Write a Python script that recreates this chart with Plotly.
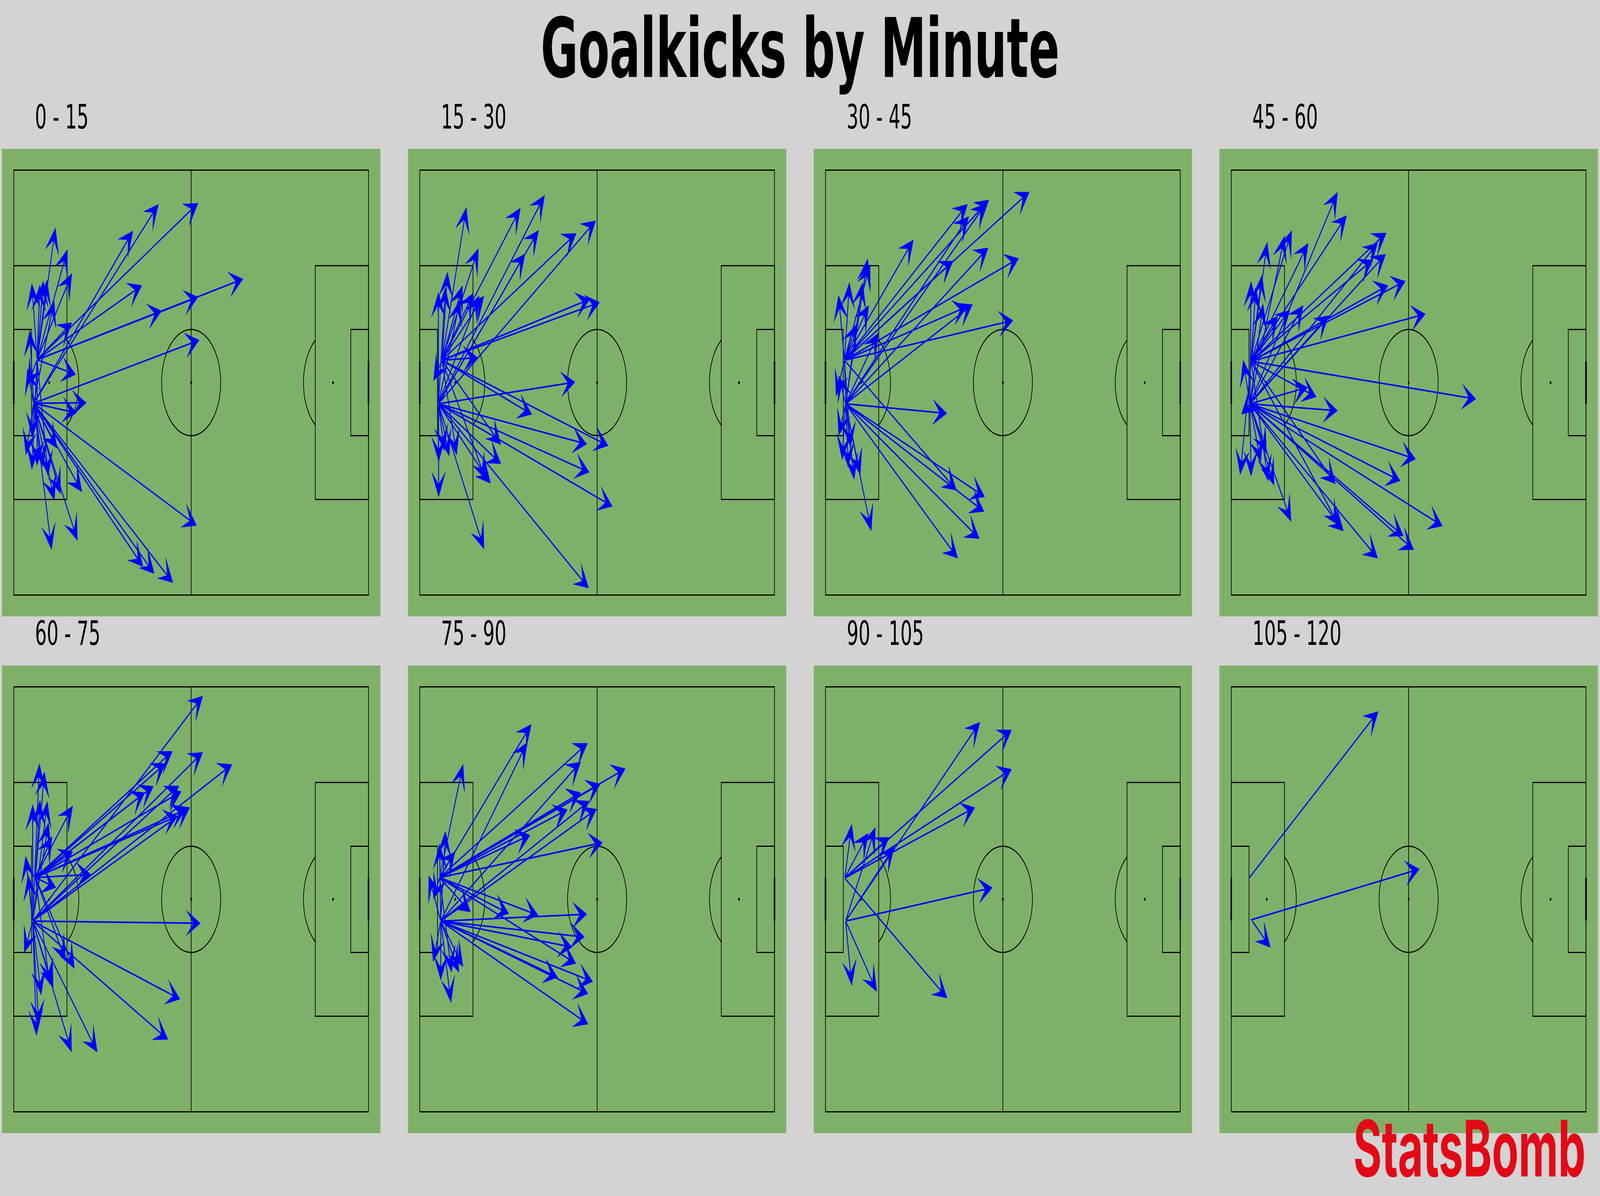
import numpy as np
import plotly.graph_objects as go

# panel titles (minute bins)
minute_bins = ["0 - 15", "15 - 30", "30 - 45", "45 - 60",
               "60 - 75", "75 - 90", "90 - 105", "105 - 120"]

# goal kicks per bin, statsbomb pitch coords: (start_x, start_y, end_x, end_y)
kicks_0_15 = [
    (7.9, 35.7, 62.4, 6.2), (6.7, 43.9, 49.0, 6.4), (6.7, 43.9, 40.4, 11.4),
    (7.9, 35.7, 43.4, 21.7), (7.9, 35.7, 77.6, 20.5), (7.9, 35.7, 62.4, 23.9),
    (7.9, 35.7, 50.1, 26.5), (6.7, 43.9, 62.8, 32.0), (6.7, 43.9, 61.9, 66.9),
    (6.7, 43.9, 43.8, 74.7), (6.7, 43.9, 47.6, 76.0), (6.7, 43.9, 53.9, 77.7),
    (6.7, 43.9, 23.1, 60.6), (6.7, 43.9, 21.6, 69.8), (6.7, 43.9, 12.8, 71.5),
    (7.9, 35.7, 21.0, 38.5), (6.7, 43.9, 24.6, 43.8), (6.7, 43.9, 21.3, 45.7),
    (7.9, 35.7, 14.1, 10.8), (7.9, 35.7, 18.2, 14.9), (7.9, 35.7, 19.7, 19.4),
    (6.7, 43.9, 13.7, 24.5), (7.9, 35.7, 11.3, 20.6), (7.9, 35.7, 10.0, 20.8),
    (7.9, 35.7, 6.1, 21.3), (7.9, 35.7, 19.7, 28.7), (6.7, 43.9, 5.4, 30.1),
    (6.7, 43.9, 4.6, 37.3), (7.9, 35.7, 6.1, 56.4), (6.7, 43.9, 4.1, 53.7),
    (6.7, 43.9, 10.0, 56.0), (7.9, 35.7, 11.7, 57.7), (6.7, 43.9, 13.8, 62.3),
    (6.7, 43.9, 15.9, 61.0), (6.7, 43.9, 6.2, 50.5), (7.9, 35.7, 8.8, 21.6),
    (7.9, 35.7, 7.9, 55.7), (6.7, 43.9, 14.7, 52.4), (7.9, 35.7, 4.6, 40.6),
]
kicks_15_30 = [
    (7.5, 35.8, 15.8, 6.9), (7.5, 35.8, 34.1, 7.1), (6.3, 44.0, 42.3, 4.7),
    (6.3, 44.0, 40.3, 11.3), (6.3, 44.0, 35.7, 15.7), (7.5, 35.8, 19.9, 14.7),
    (7.5, 35.8, 53.0, 11.9), (6.3, 44.0, 59.6, 9.5), (7.5, 35.8, 57.6, 24.3),
    (7.5, 35.8, 60.9, 24.9), (6.3, 44.0, 52.6, 39.9), (7.5, 35.8, 38.0, 46.0),
    (6.3, 44.0, 56.6, 51.6), (7.5, 35.8, 63.8, 51.9), (6.3, 44.0, 57.4, 56.9),
    (6.3, 44.0, 65.2, 63.3), (6.3, 44.0, 57.2, 78.7), (6.3, 44.0, 21.8, 71.4),
    (7.5, 35.8, 27.5, 51.7), (6.3, 44.0, 27.5, 55.3), (6.3, 44.0, 24.0, 59.0),
    (7.5, 35.8, 22.4, 58.3), (6.3, 44.0, 6.4, 61.6), (6.3, 44.0, 6.4, 55.0),
    (6.3, 44.0, 10.0, 53.9), (7.5, 35.8, 12.5, 53.7), (6.3, 44.0, 8.3, 52.9),
    (7.5, 35.8, 19.6, 35.3), (7.5, 35.8, 21.8, 23.7), (6.3, 44.0, 20.1, 23.6),
    (7.5, 35.8, 18.2, 23.1), (7.5, 35.8, 14.5, 21.7), (6.3, 44.0, 13.7, 24.3),
    (7.5, 35.8, 9.4, 19.1), (6.3, 44.0, 6.3, 22.9), (7.5, 35.8, 4.6, 39.7),
    (6.3, 44.0, 8.7, 22.0),
]
kicks_30_45 = [
    (6.4, 35.8, 69.0, 4.1), (6.4, 35.8, 48.1, 6.4), (6.4, 35.8, 55.3, 5.6),
    (6.8, 44.0, 54.3, 6.3), (6.8, 44.0, 48.5, 8.7), (6.8, 44.0, 55.1, 14.6),
    (6.4, 35.8, 43.2, 17.1), (6.4, 35.8, 29.8, 13.1), (6.4, 35.8, 65.4, 16.6),
    (6.8, 44.0, 49.8, 25.3), (6.4, 35.8, 47.9, 25.7), (6.4, 35.8, 63.5, 28.3),
    (6.8, 44.0, 41.1, 45.8), (6.4, 35.8, 44.4, 60.3), (6.8, 44.0, 53.9, 61.5),
    (6.8, 44.0, 53.7, 64.3), (6.8, 44.0, 52.1, 69.4), (6.8, 44.0, 44.8, 73.1),
    (6.8, 44.0, 15.5, 68.0), (6.4, 35.8, 15.1, 17.7), (6.8, 44.0, 14.3, 16.6),
    (6.4, 35.8, 8.1, 21.1), (6.4, 35.8, 4.4, 23.5), (6.8, 44.0, 12.6, 21.1),
    (6.4, 35.8, 14.7, 25.4), (6.4, 35.8, 10.6, 28.9), (6.8, 44.0, 18.0, 30.6),
    (6.8, 44.0, 9.7, 58.3), (6.8, 44.0, 11.8, 57.4), (6.4, 35.8, 7.7, 56.0),
    (6.8, 44.0, 5.6, 54.6), (6.8, 44.0, 4.4, 50.0), (6.4, 35.8, 3.5, 42.6),
    (6.8, 44.0, 4.4, 38.6), (6.4, 35.8, 8.5, 52.3),
]
kicks_45_60 = [
    (6.3, 44.0, 36.0, 4.1), (6.7, 36.0, 39.1, 8.5), (6.7, 36.0, 26.1, 13.7),
    (6.7, 36.0, 20.5, 11.3), (6.3, 44.0, 18.1, 12.3), (6.7, 36.0, 12.2, 13.5),
    (6.7, 36.0, 52.5, 11.8), (6.3, 44.0, 49.6, 13.7), (6.3, 44.0, 52.3, 15.8),
    (6.7, 36.0, 47.9, 16.9), (6.7, 36.0, 58.9, 20.9), (6.7, 36.0, 53.1, 21.7),
    (6.7, 36.0, 65.7, 27.1), (6.3, 44.0, 33.0, 27.4), (6.7, 36.0, 82.8, 43.1),
    (6.3, 44.0, 25.8, 40.9), (6.7, 36.0, 28.8, 42.7), (6.3, 44.0, 36.0, 45.3),
    (6.3, 44.0, 62.4, 54.4), (6.3, 44.0, 57.2, 58.5), (6.3, 44.0, 71.5, 67.0),
    (6.3, 44.0, 58.3, 68.9), (6.3, 44.0, 61.8, 71.5), (6.3, 44.0, 49.6, 73.1),
    (6.3, 44.0, 38.0, 68.0), (6.7, 36.0, 36.4, 66.9), (6.7, 36.0, 35.3, 59.1),
    (6.3, 44.0, 20.3, 66.2), (6.3, 44.0, 14.5, 59.4), (6.7, 36.0, 12.5, 58.6),
    (6.3, 44.0, 12.0, 53.4), (6.3, 44.0, 6.7, 57.7), (6.7, 36.0, 3.0, 57.4),
    (6.3, 44.0, 10.0, 55.1), (6.3, 44.0, 3.4, 46.0), (6.3, 44.0, 4.0, 35.7),
    (6.3, 44.0, 6.7, 20.9), (6.7, 36.0, 8.3, 22.0), (6.7, 36.0, 10.4, 19.7),
    (6.7, 36.0, 19.9, 26.3), (6.3, 44.0, 24.4, 25.4), (6.7, 36.0, 15.8, 27.4),
    (6.3, 44.0, 10.8, 25.1),
]
kicks_60_75 = [
    (6.4, 44.1, 64.0, 1.7), (7.3, 35.9, 53.7, 12.1), (7.3, 35.9, 51.4, 14.4),
    (6.4, 44.1, 64.0, 12.3), (6.4, 44.1, 73.9, 14.6), (7.3, 35.9, 47.3, 18.7),
    (7.3, 35.9, 44.4, 19.9), (6.4, 44.1, 55.9, 18.6), (7.3, 35.9, 56.7, 19.7),
    (6.4, 44.1, 59.6, 22.7), (7.3, 35.9, 58.2, 23.1), (7.3, 35.9, 55.5, 24.3),
    (7.3, 35.9, 26.1, 35.3), (6.4, 44.1, 63.2, 44.5), (6.4, 44.1, 56.3, 58.8),
    (6.4, 44.1, 52.2, 66.4), (6.4, 44.1, 28.3, 68.8), (6.4, 44.1, 19.6, 68.8),
    (7.3, 35.9, 20.6, 53.1), (7.3, 35.9, 17.6, 51.7), (6.4, 44.1, 13.4, 56.7),
    (6.4, 44.1, 9.3, 58.1), (6.4, 44.1, 7.7, 65.7), (6.4, 44.1, 8.5, 63.8),
    (6.4, 44.1, 3.5, 50.1), (6.4, 44.1, 4.0, 31.8), (6.4, 44.1, 4.8, 35.3),
    (6.4, 44.1, 8.7, 14.4), (7.3, 35.9, 10.4, 15.9), (6.4, 44.1, 6.4, 22.1),
    (7.3, 35.9, 8.9, 21.3), (6.4, 44.1, 11.4, 21.5), (7.3, 35.9, 20.0, 22.4),
    (7.3, 35.9, 13.0, 28.1), (6.4, 44.1, 11.8, 25.5), (7.3, 35.9, 20.0, 31.0),
    (7.3, 35.9, 14.3, 37.8), (7.3, 35.9, 12.2, 56.1),
]
kicks_75_90 = [
    (6.7, 35.9, 37.8, 7.0), (7.1, 44.1, 36.4, 10.4), (6.7, 35.9, 14.7, 14.5),
    (6.7, 35.9, 56.8, 10.6), (7.1, 44.1, 54.5, 14.1), (6.7, 35.9, 69.6, 15.4),
    (6.7, 35.9, 61.1, 18.3), (6.7, 35.9, 54.5, 19.9), (7.1, 44.1, 57.4, 21.5),
    (7.1, 44.1, 59.9, 23.0), (6.7, 35.9, 50.0, 23.1), (6.7, 35.9, 37.4, 27.9),
    (6.7, 35.9, 61.9, 29.3), (6.7, 35.9, 40.1, 43.0), (7.1, 44.1, 56.6, 42.8),
    (7.1, 44.1, 55.8, 47.1), (7.1, 44.1, 51.6, 49.0), (6.7, 35.9, 52.9, 52.1),
    (7.1, 44.1, 58.6, 55.5), (7.1, 44.1, 57.0, 57.8), (7.1, 44.1, 46.7, 54.7),
    (7.1, 44.1, 57.0, 63.5), (6.7, 35.9, 30.2, 42.7), (6.7, 35.9, 17.2, 42.4),
    (7.1, 44.1, 10.6, 59.5), (7.1, 44.1, 14.7, 52.7), (7.1, 44.1, 13.3, 53.8),
    (6.7, 35.9, 10.8, 53.8), (7.1, 44.1, 7.1, 55.3), (7.1, 44.1, 4.5, 51.8),
    (7.1, 44.1, 3.0, 35.5), (6.7, 35.9, 4.6, 40.0), (7.1, 44.1, 8.7, 27.1),
    (6.7, 35.9, 12.0, 31.0), (7.1, 44.1, 6.7, 29.5),
]
kicks_90_105 = [
    (6.8, 44.1, 52.3, 6.6), (6.5, 36.0, 63.0, 8.1), (6.5, 36.0, 63.0, 15.5),
    (6.5, 36.0, 50.6, 22.7), (6.8, 44.1, 56.5, 37.8), (6.5, 36.0, 41.2, 58.6),
    (6.8, 44.1, 17.4, 57.4), (6.8, 44.1, 8.9, 56.3), (6.5, 36.0, 8.9, 25.8),
    (6.5, 36.0, 14.5, 27.5), (6.8, 44.1, 16.9, 26.4), (6.5, 36.0, 21.6, 28.3),
    (6.8, 44.1, 23.3, 30.1),
]
kicks_105_120 = [
    (6.0, 36.0, 49.8, 4.6), (6.5, 43.9, 63.7, 34.3), (7.0, 44.0, 13.3, 49.1),
]
kick_sets = [kicks_0_15, kicks_15_30, kicks_30_45, kicks_45_60,
             kicks_60_75, kicks_75_90, kicks_90_105, kicks_105_120]

W, H = 7362, 3062
col_left = [9, 1877, 3744, 5611]
row_top = [381, 1704]
pw, ph = 1741, 1197

line = dict(color="black", width=3)
theta = np.linspace(-np.arccos(0.6), np.arccos(0.6), 40)

fig = go.Figure()
axes = {}
shapes = []
annotations = []

for i, (label, kicks) in enumerate(zip(minute_bins, kick_sets)):
    n = "" if i == 0 else str(i + 1)
    xa, ya = "x" + n, "y" + n
    r, c = divmod(i, 4)
    axes["xaxis" + n] = dict(domain=[col_left[c] / W, (col_left[c] + pw) / W],
                             range=[-4, 124], visible=False, anchor=ya, fixedrange=True)
    axes["yaxis" + n] = dict(domain=[1 - (row_top[r] + ph) / H, 1 - row_top[r] / H],
                             range=[84, -4], visible=False, anchor=xa, fixedrange=True)

    # pitch markings
    for x0, y0, x1, y1 in [(0, 0, 120, 80), (0, 18, 18, 62), (102, 18, 120, 62),
                           (0, 30, 6, 50), (114, 30, 120, 50)]:
        shapes.append(dict(type="rect", xref=xa, yref=ya, x0=x0, y0=y0, x1=x1, y1=y1, line=line))
    shapes.append(dict(type="line", xref=xa, yref=ya, x0=60, y0=0, x1=60, y1=80, line=line))
    shapes.append(dict(type="circle", xref=xa, yref=ya, x0=50, y0=30, x1=70, y1=50, line=line))
    for sx in (12, 60, 108):
        shapes.append(dict(type="circle", xref=xa, yref=ya, x0=sx - 0.28, y0=39.72,
                           x1=sx + 0.28, y1=40.28, fillcolor="black", line=dict(width=0)))
    for gx in (0, 120):
        shapes.append(dict(type="line", xref=xa, yref=ya, x0=gx, y0=36, x1=gx, y1=44,
                           line=dict(color="black", width=7)))
    for cx, sgn in ((12, 1), (108, -1)):
        fig.add_trace(go.Scatter(x=cx + sgn * 10 * np.cos(theta), y=40 + 10 * np.sin(theta),
                                 mode="lines", line=line, xaxis=xa, yaxis=ya,
                                 hoverinfo="skip", showlegend=False))

    # goal kick arrows
    for sx, sy, ex, ey in kicks:
        annotations.append(dict(x=ex, y=ey, ax=sx, ay=sy, xref=xa, yref=ya,
                                axref=xa, ayref=ya, text="", showarrow=True,
                                arrowhead=3, arrowsize=2.8, arrowwidth=4,
                                arrowcolor="blue", standoff=0, startstandoff=0))

    annotations.append(dict(text=label, xref="paper", yref="paper",
                            x=(col_left[c] + 150) / W, y=1 - (row_top[r] - 82) / H,
                            xanchor="left", yanchor="middle", showarrow=False,
                            font=dict(family="DejaVu Sans", size=85, color="black")))

annotations.append(dict(text="<b>Goalkicks by Minute</b>", xref="paper", yref="paper",
                        x=0.5, y=1, xanchor="center", yanchor="top",
                        showarrow=False,
                        font=dict(family="DejaVu Sans", size=210, color="black")))
annotations.append(dict(text="<b>StatsBomb</b>", xref="paper", yref="paper",
                        x=7298 / W, y=0, xanchor="right", yanchor="bottom",
                        showarrow=False,
                        font=dict(family="Inter", size=200, color="#e20a17")))

fig.update_layout(width=W, height=H, margin=dict(l=0, r=0, t=0, b=0),
                  paper_bgcolor="#d3d3d3", plot_bgcolor="#7fb069",
                  showlegend=False, shapes=shapes, annotations=annotations, **axes)

# fit the fixed-size figure to whatever viewport the page is opened in
fit_js = """
var gd = document.getElementById('{plot_id}');
document.body.style.margin = '0';
document.body.style.overflow = 'hidden';
var sx = window.innerWidth / %d, sy = window.innerHeight / %d;
gd.style.transformOrigin = '0 0';
gd.style.transform = 'scale(' + sx + ',' + sy + ')';
""" % (W, H)

fig.write_html("out.html", post_script=fit_js, config={"displayModeBar": False})
